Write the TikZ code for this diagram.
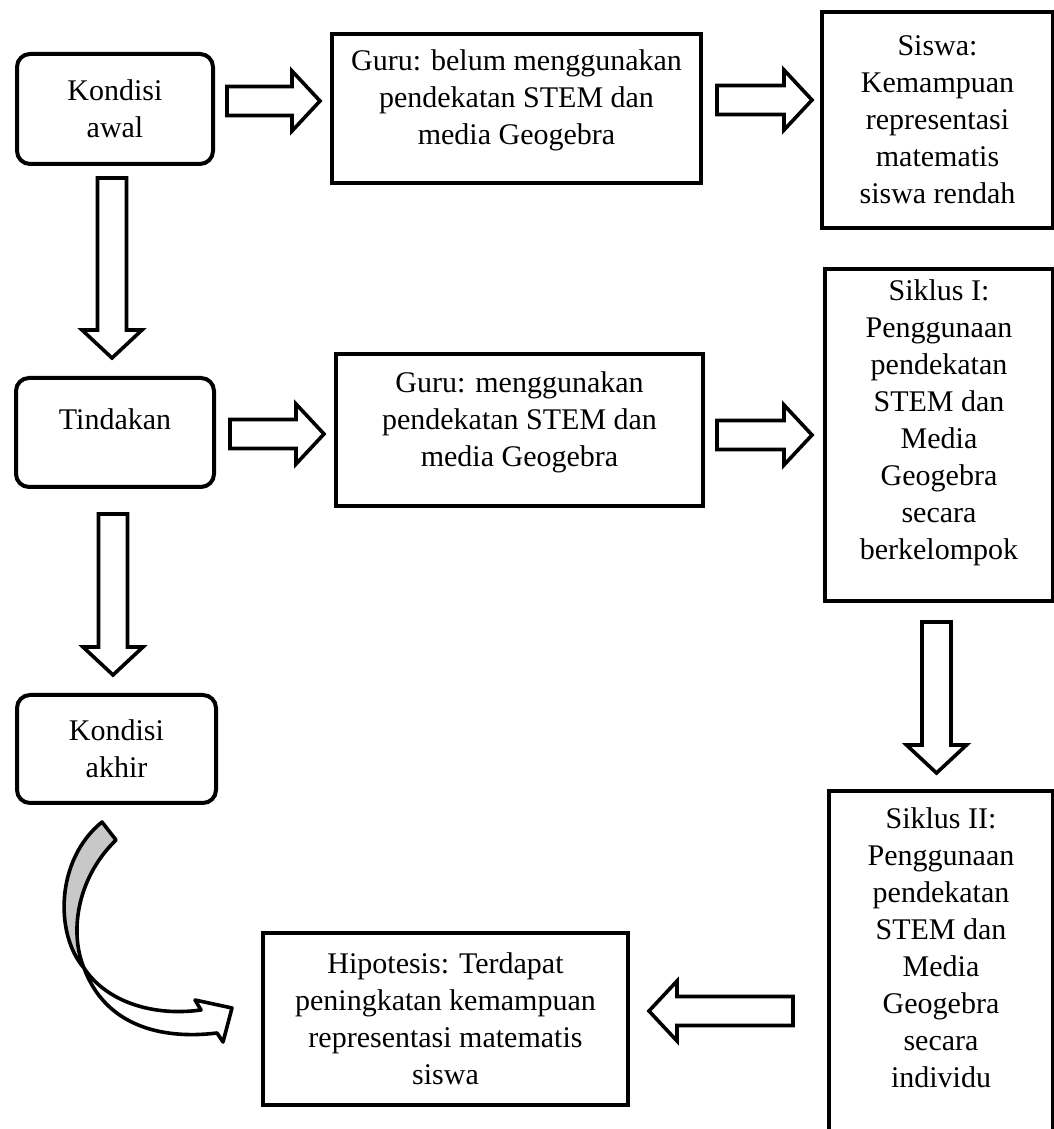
\documentclass[tikz,border=0pt]{standalone}
\usepackage{fontspec}
\setmainfont{Liberation Serif}
\usetikzlibrary{calc}
\tikzset{
	kotak/.style={draw, line width=4pt, inner sep=0pt, align=center,
		font=\fontsize{30}{37}\selectfont},
	kotakbulat/.style={kotak, rounded corners=13pt},
	garispanah/.style={draw, line width=3.6pt, fill=white, line join=miter},
	pics/panahblok/.style={code={
			\path[garispanah] (0,-14.5) -- ({#1-28},-14.5) -- ({#1-28},-30) -- (#1,0)
			-- ({#1-28},30) -- ({#1-28},14.5) -- (0,14.5) -- cycle;
	}}
}
\definecolor{abuColor}{HTML}{C8C8C8}
\newcommand{\turun}[1]{\rule[-#1]{0pt}{#1}}

\begin{document}
\begin{tikzpicture}[x=1pt, y=1pt]
	\useasboundingbox (0,0) rectangle (1054,1129);
	
	% kolom kiri
	\node[kotakbulat, minimum width=196pt, minimum height=110pt] (ka) at (115,1020) {Kondisi\\awal};
	\node[kotakbulat, minimum width=198pt, minimum height=109pt] (td) at (115,696.5) {Tindakan\turun{27pt}};
	\node[kotakbulat, minimum width=199pt, minimum height=108pt] (kk) at (116.5,380) {Kondisi\\akhir};
	
	% kolom tengah
	\node[kotak, minimum width=369pt, minimum height=149pt] (g1) at (516.5,1020.5) {
		Guru: belum menggunakan\\
		pendekatan STEM dan\\
		media Geogebra\turun{22.5pt}};
	\node[kotak, minimum width=367pt, minimum height=152pt] (g2) at (519.5,699) {
		Guru: menggunakan\\
		pendekatan STEM dan\\
		media Geogebra\turun{22.5pt}};
	\node[kotak, minimum width=365pt, minimum height=172pt] (hp) at (445.5,110) {
		Hipotesis: Terdapat\\
		peningkatan kemampuan\\
		representasi matematis\\
		siswa};
	
	% kolom kanan
	\node[kotak, minimum width=231pt, minimum height=216pt] (sw) at (937.5,1009) {
		Siswa:\\ Kemampuan\\ representasi\\ matematis\\ siswa rendah};
	\node[kotak, minimum width=228pt, minimum height=332pt] (s1) at (939,694) {
		Siklus I:\\ Penggunaan\\ pendekatan\\ STEM dan\\ Media\\ Geogebra\\ secara\\
		berkelompok\turun{31.5pt}};
	\node[kotak, minimum width=224pt, minimum height=342pt] (s2) at (941,167) {
		Siklus II:\\ Penggunaan\\ pendekatan\\ STEM dan\\ Media\\ Geogebra\\ secara\\
		individu\turun{28pt}};
	
	% panah blok
	\pic at (227,1028) {panahblok=93};
	\pic at (717,1029) {panahblok=95};
	\pic at (230,695) {panahblok=94};
	\pic at (717,694) {panahblok=95};
	\pic[rotate=-90] at (112,951) {panahblok=180};
	\pic[rotate=-90] at (113,615) {panahblok=161};
	\pic[rotate=-90] at (936.5,507) {panahblok=151};
	\pic[rotate=180] at (793,118) {panahblok=144};
	
	% panah lengkung
	\path[garispanah, fill=abuColor, line join=round] (102,307) .. controls (55,269) and (55,194) .. (84,161)
		.. controls (70,194) and (75,249) .. (116,289) -- cycle;
	\path[garispanah, line join=round] (84,161) .. controls (105,104) and (160,89) .. (217,96)
		-- (223,87) -- (232,121) -- (195,129) -- (201,119)
		.. controls (150,112) and (105,129) .. (84,161) -- cycle;
\end{tikzpicture}
\end{document}
